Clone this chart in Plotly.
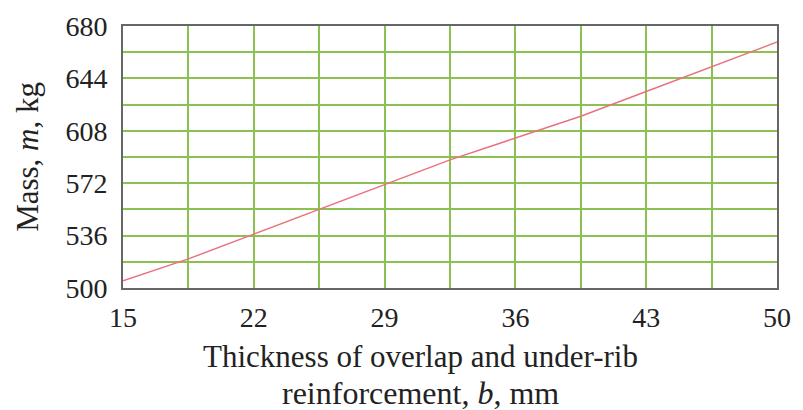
import plotly.graph_objects as go

thickness_b = [15, 18.5, 22, 25.5, 29, 32.5, 36, 39.5, 43, 46.5, 50]
mass_m = [505, 520, 537, 554, 571, 588, 603, 618, 635, 652, 669]
x_ticks = [15, 22, 29, 36, 43, 50]
y_ticks = [500, 536, 572, 608, 644, 680]

FONT = "Liberation Serif, Times New Roman, serif"
GRID = "#8cc152"

fig = go.Figure()
fig.add_trace(go.Scatter(x=thickness_b, y=mass_m, mode="lines",
                         line=dict(color="#e8737d", width=1.5), showlegend=False))

fig.update_xaxes(range=[15, 50], tickvals=x_ticks, ticktext=[str(v) for v in x_ticks],
                 showgrid=True, gridcolor=GRID, gridwidth=1.5,
                 minor=dict(dtick=3.5, tick0=15, showgrid=True, gridcolor=GRID, gridwidth=1.5),
                 showline=True, mirror=True, linecolor="#666666", linewidth=2,
                 ticks="outside", ticklen=3, tickcolor="rgba(0,0,0,0)", automargin=False,
                 tickfont=dict(family=FONT, size=28, color="#222"), zeroline=False)
fig.update_yaxes(range=[500, 680], tickvals=y_ticks, ticktext=[str(v) for v in y_ticks],
                 showgrid=True, gridcolor=GRID, gridwidth=1.5,
                 minor=dict(dtick=18, tick0=500, showgrid=True, gridcolor=GRID, gridwidth=1.5),
                 showline=True, mirror=True, linecolor="#666666", linewidth=2,
                 ticks="outside", ticklen=8, tickcolor="rgba(0,0,0,0)", automargin=False,
                 tickfont=dict(family=FONT, size=28, color="#222"), zeroline=False)

fig.add_annotation(text="Thickness of overlap and under-rib",
                   xref="paper", yref="paper", x=0.455, y=-0.263, xanchor="center", yanchor="middle",
                   showarrow=False, font=dict(family=FONT, size=31, color="#222"))
fig.add_annotation(text="reinforcement, <i>b</i>, mm",
                   xref="paper", yref="paper", x=0.455, y=-0.40, xanchor="center", yanchor="middle",
                   showarrow=False, font=dict(family=FONT, size=32, color="#222"))
fig.add_annotation(text="Mass, <i>m</i>, kg", textangle=-90,
                   xref="paper", yref="paper", x=-0.147, y=0.50, xanchor="center", yanchor="middle",
                   showarrow=False, font=dict(family=FONT, size=31, color="#222"))

fig.update_layout(width=795, height=402, margin=dict(l=115, r=26, t=18, b=122),
                  plot_bgcolor="white", paper_bgcolor="white",
                  font=dict(family=FONT))
fig.write_html("out.html")
